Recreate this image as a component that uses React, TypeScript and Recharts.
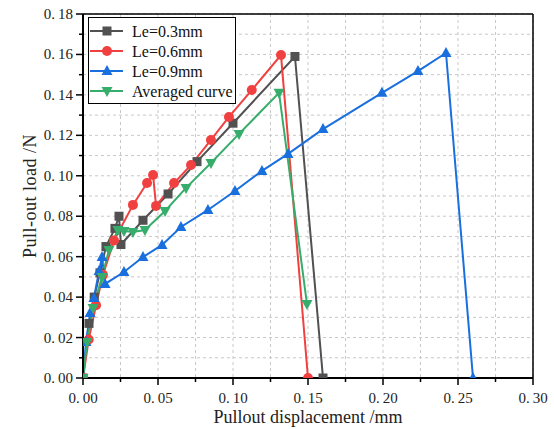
import React from "react";
import {
  CartesianGrid,
  Label,
  Legend,
  Line,
  LineChart,
  ReferenceLine,
  XAxis,
  YAxis,
} from "recharts";

const FONT = "'Liberation Serif', 'Times New Roman', serif";

const SERIES_NAMES = ["Le=0.3mm", "Le=0.6mm", "Le=0.9mm", "Averaged curve"];
const COLORS = ["#515151", "#F14040", "#1A6FDF", "#37AD6B"];

const X_TICKS = [
  0, 0.025, 0.05, 0.075, 0.1, 0.125, 0.15, 0.175, 0.2, 0.225, 0.25, 0.275, 0.3,
];
const Y_TICKS = [
  0, 0.01, 0.02, 0.03, 0.04, 0.05, 0.06, 0.07, 0.08, 0.09, 0.1, 0.11, 0.12,
  0.13, 0.14, 0.15, 0.16, 0.17, 0.18,
];

// Le=0.3mm
const LE03_X = [0, 0.004, 0.0075, 0.0113, 0.0153, 0.0213, 0.024, 0.0253, 0.04, 0.0567, 0.076, 0.1, 0.1413, 0.16];
const LE03_Y = [0, 0.027, 0.04, 0.052, 0.065, 0.074, 0.08, 0.066, 0.078, 0.091, 0.107, 0.126, 0.159, 0];

// Le=0.6mm
const LE06_X = [0, 0.0038, 0.0087, 0.0133, 0.0207, 0.0333, 0.0427, 0.0467, 0.0487, 0.0607, 0.072, 0.0853, 0.0973, 0.1125, 0.132, 0.15];
const LE06_Y = [0, 0.019, 0.036, 0.051, 0.068, 0.0856, 0.0964, 0.1004, 0.0851, 0.0964, 0.1053, 0.1177, 0.1291, 0.1424, 0.1597, 0];

// Le=0.9mm
const LE09_X = [0, 0.002, 0.0047, 0.0073, 0.0107, 0.0127, 0.0147, 0.0273, 0.04, 0.0527, 0.0653, 0.0833, 0.1013, 0.1193, 0.1367, 0.16, 0.1993, 0.2233, 0.242, 0.26];
const LE09_Y = [0, 0.0178, 0.0321, 0.0396, 0.0529, 0.0598, 0.0465, 0.0524, 0.0598, 0.0658, 0.0747, 0.0831, 0.0925, 0.1024, 0.1108, 0.1231, 0.141, 0.1518, 0.1607, 0];

// Averaged curve
const AVG_X = [0, 0.0027, 0.0067, 0.0127, 0.0173, 0.0233, 0.0273, 0.0333, 0.0413, 0.0547, 0.0687, 0.0853, 0.104, 0.1307, 0.1493];
const AVG_Y = [0, 0.0178, 0.0346, 0.05, 0.0633, 0.0732, 0.0727, 0.0722, 0.0732, 0.0826, 0.094, 0.1063, 0.1207, 0.141, 0.0366];

const toPoints = (xs: number[], ys: number[]) =>
  xs.map((x, i) => ({ x, y: ys[i] }));

type Shape = "square" | "circle" | "up" | "down";
const SHAPES: Shape[] = ["square", "circle", "up", "down"];

function Marker({ cx, cy, shape, color }: { cx: number; cy: number; shape: Shape; color: string }) {
  if (cx == null || cy == null) return null;
  if (shape === "square")
    return <rect x={cx - 4.5} y={cy - 4.5} width={9} height={9} fill={color} />;
  if (shape === "circle") return <circle cx={cx} cy={cy} r={5} fill={color} />;
  if (shape === "up")
    return (
      <polygon
        points={`${cx},${cy - 6} ${cx + 5.5},${cy + 4} ${cx - 5.5},${cy + 4}`}
        fill={color}
      />
    );
  return (
    <polygon
      points={`${cx},${cy + 6} ${cx + 5.5},${cy - 4} ${cx - 5.5},${cy - 4}`}
      fill={color}
    />
  );
}

const makeDot = (shape: Shape, color: string) => (p: any) => (
  <Marker key={`d-${p.index}`} cx={p.cx} cy={p.cy} shape={shape} color={color} />
);

function XTick(props: any) {
  const { x, y, payload } = props;
  const v: number = payload.value;
  const major = Math.round(v * 1000) % 50 === 0;
  const [a, b] = v.toFixed(2).split(".");
  return (
    <g>
      <line x1={x} x2={x} y1={y} y2={y + (major ? 7 : 4)} stroke="#000" strokeWidth={1.5} />
      {major && (
        <text x={x} y={y + 25} textAnchor="middle" fontSize={15} fontFamily={FONT} fill="#222">
          {a}.<tspan dx={3}>{b}</tspan>
        </text>
      )}
    </g>
  );
}

function YTick(props: any) {
  const { x, y, payload } = props;
  const v: number = payload.value;
  const major = Math.round(v * 100) % 2 === 0;
  const [a, b] = v.toFixed(2).split(".");
  return (
    <g>
      <line x1={x - (major ? 7 : 4)} x2={x} y1={y} y2={y} stroke="#000" strokeWidth={1.5} />
      {major && (
        <text x={x - 10} y={y + 5} textAnchor="end" fontSize={15} fontFamily={FONT} fill="#222">
          {a}.<tspan dx={3}>{b}</tspan>
        </text>
      )}
    </g>
  );
}

function XTitle(props: any) {
  const vb = props.viewBox || { x: 83, y: 378, width: 450 };
  return (
    <text x={vb.x + vb.width / 2} y={vb.y + 45} textAnchor="middle" fontSize={18} fontFamily={FONT} fill="#222">
      Pullout displacement /mm
    </text>
  );
}

function YTitle(props: any) {
  const vb = props.viewBox || { x: 0, y: 14, height: 364 };
  const cx = 36;
  const cy = vb.y + vb.height / 2;
  return (
    <text x={cx} y={cy} transform={`rotate(-90 ${cx} ${cy})`} textAnchor="middle" fontSize={18} letterSpacing={0.5} fontFamily={FONT} fill="#222">
      Pull-out load /N
    </text>
  );
}

function LegendBox() {
  return (
    <div
      style={{
        width: 148,
        height: 87,
        boxSizing: "border-box",
        border: "1px solid #000",
        background: "#fff",
      }}
    >
      <svg width={146} height={85} style={{ display: "block" }}>
        {SERIES_NAMES.map((name, i) => {
          const cy = 13 + i * 20;
          return (
            <g key={name}>
              <line x1={1} x2={34} y1={cy} y2={cy} stroke={COLORS[i]} strokeWidth={2} />
              <Marker cx={18} cy={cy} shape={SHAPES[i]} color={COLORS[i]} />
              <text x={43} y={cy + 5.5} fontSize={16} fontFamily={FONT} fill="#111">
                {name}
              </text>
            </g>
          );
        })}
      </svg>
    </div>
  );
}

export default function App() {
  const series = [
    toPoints(LE03_X, LE03_Y),
    toPoints(LE06_X, LE06_Y),
    toPoints(LE09_X, LE09_Y),
    toPoints(AVG_X, AVG_Y),
  ];

  return (
    <div style={{ position: "absolute", left: 0, top: 0, background: "#fff" }}>
      <LineChart width={554} height={429} margin={{ top: 14, right: 21, bottom: 0, left: 0 }}>
        <CartesianGrid stroke="#c8c8c8" strokeDasharray="3 3" strokeWidth={1} />
        <XAxis
          dataKey="x"
          type="number"
          domain={[0, 0.3]}
          ticks={X_TICKS}
          interval={0}
          allowDataOverflow
          height={51}
          tickSize={0}
          tickMargin={0}
          tickLine={false}
          tick={<XTick />}
          axisLine={{ stroke: "#000", strokeWidth: 2 }}
        >
          <Label content={<XTitle />} />
        </XAxis>
        <YAxis
          type="number"
          domain={[0, 0.18]}
          ticks={Y_TICKS}
          interval={0}
          allowDataOverflow
          width={83}
          tickSize={0}
          tickMargin={0}
          tickLine={false}
          tick={<YTick />}
          axisLine={{ stroke: "#000", strokeWidth: 2 }}
        >
          <Label content={<YTitle />} />
        </YAxis>
        <ReferenceLine y={0.18} stroke="#000" strokeWidth={1.5} />
        <ReferenceLine x={0.3} stroke="#000" strokeWidth={1.5} />
        {series.map((data, i) => (
          <Line
            key={SERIES_NAMES[i]}
            data={data}
            dataKey="y"
            name={SERIES_NAMES[i]}
            stroke={COLORS[i]}
            strokeWidth={2}
            dot={makeDot(SHAPES[i], COLORS[i])}
            activeDot={false}
            isAnimationActive={false}
          />
        ))}
        <Legend
          layout="vertical"
          align="center"
          verticalAlign="middle"
          wrapperStyle={{ left: 88, top: 17, width: 148, height: 87 }}
          content={() => <LegendBox />}
        />
      </LineChart>
    </div>
  );
}
